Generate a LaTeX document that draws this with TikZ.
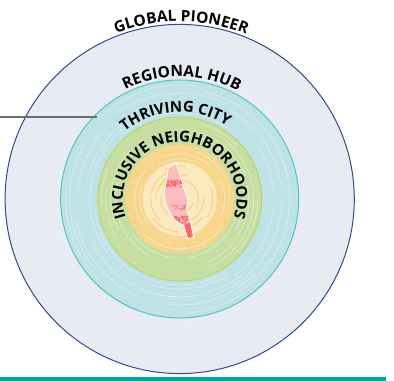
\documentclass[tikz,border=0pt]{standalone}
\usepackage{fontspec}
\setmainfont{Open Sans}
\usetikzlibrary{decorations.text}
\definecolor{outerfill}{HTML}{E8EBF3}
\definecolor{outerline}{HTML}{2F4A8C}
\definecolor{hubfill}{HTML}{BFE2E6}
\definecolor{hubline}{HTML}{4FC6C2}
\definecolor{cityfill}{HTML}{C6DEA2}
\definecolor{cityline}{HTML}{BAD56C}
\definecolor{hoodfill}{HTML}{F7D68C}
\definecolor{hoodlight}{HTML}{FBE9BF}
\definecolor{corepink}{HTML}{FBBDBD}
\definecolor{corered}{HTML}{F4686E}
\definecolor{barteal}{HTML}{00A79D}
\definecolor{leader}{HTML}{6E6E6E}
\newcommand{\labelfont}{\fontsize{11.6pt}{13pt}\selectfont\bfseries}
\newcommand{\innerfont}{\fontsize{11.3pt}{13pt}\selectfont\bfseries}
\tikzset{
  ring/.style={line width=0.75pt},
  streak/.style={white,line width=0.5pt,opacity=#1,line cap=round},
  curvedlabel/.style={decorate,decoration={text along path,text align=center,text={|\labelfont|#1}}},
  innerlabel/.style={decorate,decoration={text along path,text align=center,text={|\innerfont|#1}}}
}
\newcommand{\speckles}[4]{%
  \foreach \i in {1,...,#3}{%
    \pgfmathsetmacro{\ang}{360*rnd}%
    \pgfmathsetmacro{\rad}{#1+(#2-#1)*rnd}%
    \fill[white,opacity=#4] ([shift={(c)}]\ang:\rad) circle (0.45);
  }%
}
\newcommand{\streaks}[2]{%
  \foreach \r in {#1}{%
    \foreach \k in {1,2,3}{%
      \pgfmathsetmacro{\sa}{\k*120+100*rnd}%
      \pgfmathsetmacro{\sl}{25+60*rnd}%
      \draw[streak=#2] ([shift={(c)}]\sa:\r) arc[start angle=\sa,delta angle=\sl,radius=\r];
    }%
  }%
}
\newcommand{\coreoutline}{(176,218) -- (180.5,204.3) -- (184.5,191) -- (188,181) -- (186.5,173) -- (190.5,159.3) -- (193.5,143.7) -- (187.8,142.2) -- (184,155) -- (175,161) -- (170,168) -- (166,176) -- (164,187.7) -- (166.7,201) -- (168.3,212.7) -- cycle}
\begin{document}
\begin{tikzpicture}[x=0.75pt,y=0.75pt]
\pgfmathsetseed{4242}
\useasboundingbox (0,0) rectangle (394,381);
\coordinate (c) at (179.7,182);
\fill[barteal] (0,0) rectangle (386,4);
\draw[ring,draw=outerline,fill=outerfill] (c) circle (174.6);
\streaks{122,126,131}{0.3}
\speckles{119}{133}{160}{0.4}
\draw[ring,draw=hubline,fill=hubfill] (c) circle (119);
\streaks{86,90,94,98,102,106,110,114}{0.4}
\speckles{83}{118}{800}{0.45}
\draw[ring,draw=cityline,fill=cityfill] (c) circle (82);
\streaks{59,64,69,74,78}{0.45}
\speckles{55}{81}{350}{0.45}
\fill[hoodfill] (c) circle (54.5);
\fill[hoodlight] (c) circle (37);
\foreach \r in {14,19,24,29,33}{
  \foreach \k in {1,2,3}{
    \pgfmathsetmacro{\sa}{\k*120+100*rnd}
    \pgfmathsetmacro{\sl}{35+60*rnd}
    \draw[hoodfill,line width=0.9pt,line cap=round] ([shift={(c)}]\sa:\r) arc[start angle=\sa,delta angle=\sl,radius=\r];
  }
}
\speckles{36}{54}{320}{0.5}
\streaks{40,45,50}{0.45}
\coordinate (leadA) at (0,264);
\coordinate (leadB) at (97,264);
\draw[leader,line width=0.8pt] (leadA) -- (leadB);
\begin{scope}
\path[clip] \coreoutline;
\fill[corepink] (160,140) rectangle (196,220);
\foreach \i in {1,...,60}{\pgfmathsetmacro{\px}{165+17*rnd}\pgfmathsetmacro{\py}{194+7*rnd}\fill[corered] (\px,\py) circle (0.9);}
\foreach \i in {1,...,70}{\pgfmathsetmacro{\px}{170+18*rnd}\pgfmathsetmacro{\py}{154+11*rnd}\fill[corered] (\px,\py) circle (0.9);}
\foreach \i in {1,...,14}{\pgfmathsetmacro{\px}{172+14*rnd}\pgfmathsetmacro{\py}{171+5*rnd}\fill[corered] (\px,\py) circle (0.8);}
\fill[corered] (184,155) -- (190.5,159.3) -- (193.5,143.7) -- (187.8,142.2) -- cycle;
\end{scope}
\draw[white,line width=0.6pt,line join=round] \coreoutline;
\path[curvedlabel={GLOBAL PIONEER}] ([shift={(c)}]129.5:177.5) arc[start angle=129.5,end angle=49.5,radius=177.5];
\path[curvedlabel={REGIONAL HUB}] ([shift={(c)}]139:122.5) arc[start angle=139,end angle=39,radius=122.5];
\path[innerlabel={THRIVING CITY}] ([shift={(c)}]160:87) arc[start angle=160,end angle=26,radius=87];
\path[innerlabel={INCLUSIVE NEIGHBORHOODS}] ([shift={(c)}]225:57) arc[start angle=225,end angle=-45,radius=57];
\end{tikzpicture}
\end{document}
